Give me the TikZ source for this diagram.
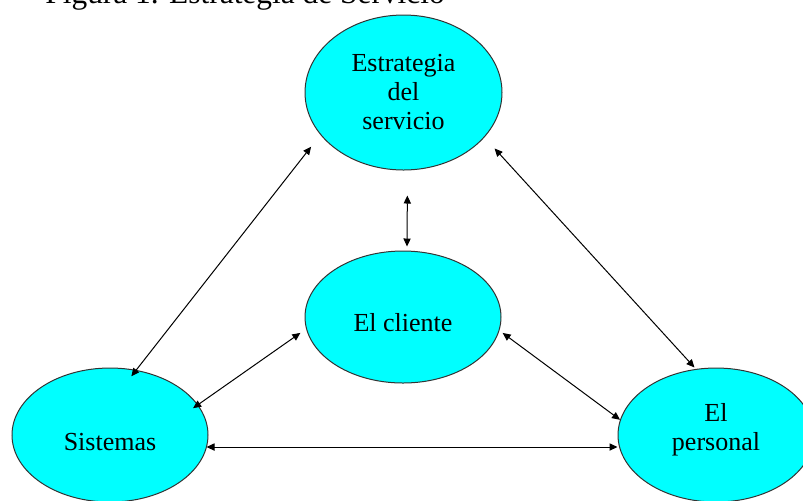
\documentclass[tikz,border=0pt]{standalone}
\usepackage{fontspec}
\setmainfont{Liberation Serif}
\usetikzlibrary{arrows.meta,shapes.geometric}
\definecolor{ovalcyan}{RGB}{0,255,255}

\begin{document}
\begin{tikzpicture}[x=0.5pt,y=-0.5pt,>={Triangle[length=4pt,width=3.6pt]},
 o/.style={ellipse,draw=black!80,fill=ovalcyan,line width=0.5pt,inner sep=0pt,align=center,font=\fontsize{13}{14.5}\selectfont},a/.style={<->,line width=0.5pt}]
\useasboundingbox (0,0) rectangle (803,500);
\node[anchor=base west,inner sep=0pt,font=\fontsize{15.7}{18}\selectfont] (title) at (45,3.5) {Figura 1. Estrategia de Servicio};
\node[o,minimum width=98.5pt,minimum height=77.5pt] (estr) at (403.5,92.5) {Estrategia\\del\\servicio};
\node[o,minimum width=98pt,minimum height=66pt,text height=15pt,text depth=0.2pt] (cliente) at (403,317) {El cliente};
\node[o,minimum width=98pt,minimum height=67pt,text height=16pt,text depth=0.2pt] (sist) at (110,435) {Sistemas};
\node[o,minimum width=98pt,minimum height=67pt,text depth=8.5pt] (pers) at (716,435) {El\\personal};
\draw[a,shorten <=7.5pt,shorten >=-4pt] (estr.207)--(sist.68);\draw[a,shorten <=-3pt,shorten >=3.5pt] (sist.19)--(cliente.187);
\draw[a,shorten <=12.5pt,shorten >=2pt] ([xshift=2pt]estr.south)--([xshift=2pt]cliente.north);
\draw[a,shorten <=7.5pt,shorten >=1pt] (estr.-29)--(pers.107);\draw[a,shorten <=2pt] (cliente.-8.5)--(pers.171);
\draw[a,shorten <=-1pt] ([yshift=-6pt]sist.east)--([yshift=-6pt]pers.west);
\end{tikzpicture}
\end{document}
